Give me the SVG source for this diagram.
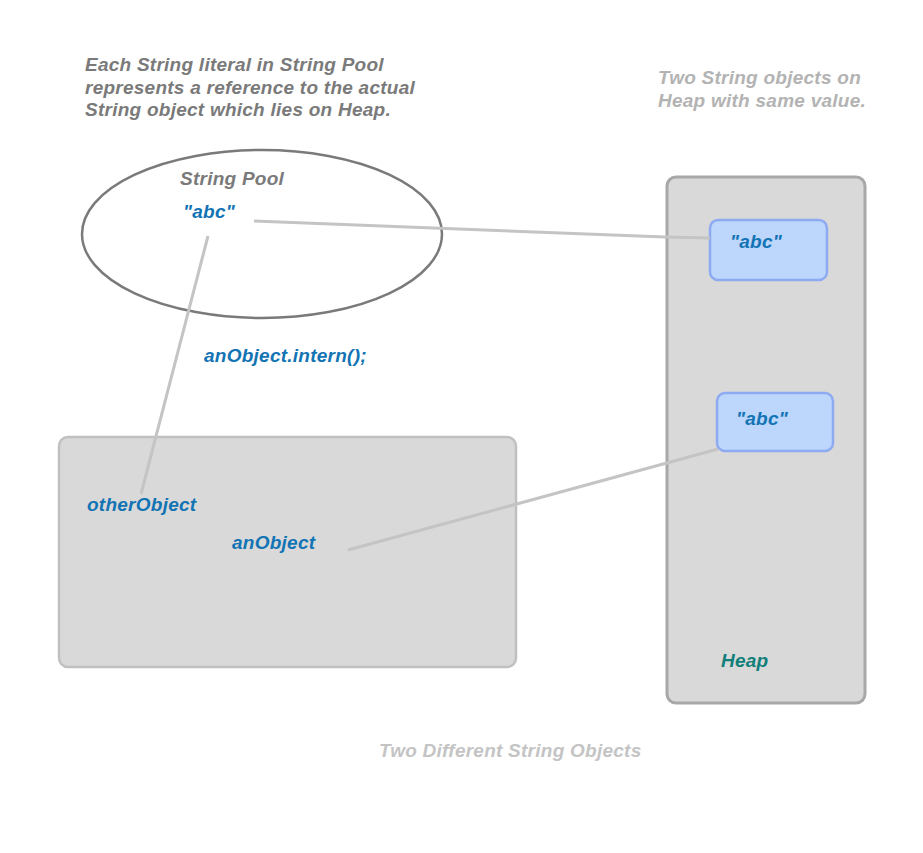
<svg xmlns="http://www.w3.org/2000/svg" width="923" height="853" viewBox="0 0 923 853">
<style>
text{font-family:"Liberation Sans",Arial,sans-serif;font-weight:bold;font-style:italic;font-size:19px;letter-spacing:0.25px}
.note{fill:#7a7a7a}
.note2{fill:#b3b3b3}
.note3{fill:#c4c4c4}
.blue{fill:#1274b4}
.teal{fill:#117f7a}
.conn{stroke:#c4c4c4;stroke-width:3;fill:none}
.panel{fill:#d9d9d9}
.obj{fill:#bdd6fb;stroke:#8eabf2;stroke-width:2.5}
</style>
<rect width="923" height="853" fill="#ffffff"/>
<g id="note-top">
<text class="note" x="85" y="71">Each String literal in String Pool</text>
<text class="note" x="85" y="94">represents a reference to the actual</text>
<text class="note" x="85" y="116">String object which lies on Heap.</text>
</g>
<g id="note-heap">
<text class="note2" x="658" y="84">Two String objects on</text>
<text class="note2" x="658" y="107">Heap with same value.</text>
</g>
<g id="heap">
<rect class="panel" x="667" y="177" width="198" height="526" rx="9" stroke="#a8a8a8" stroke-width="3"/>
<text class="teal" x="721" y="667">Heap</text>
</g>
<g id="stack">
<rect class="panel" x="59" y="437" width="457" height="230" rx="9" stroke="#c0c0c0" stroke-width="2.5"/>
</g>
<g id="pool">
<ellipse cx="262" cy="234" rx="180" ry="84" fill="#ffffff" stroke="#7a7a7a" stroke-width="2.5"/>
<text class="note" x="180" y="185">String Pool</text>
<text class="blue" x="183" y="218">"abc"</text>
</g>
<g id="heap-abc-1">
<rect class="obj" x="710" y="220" width="117" height="60" rx="8"/>
<text class="blue" x="730" y="248">"abc"</text>
</g>
<g id="heap-abc-2">
<rect class="obj" x="717" y="393" width="116" height="58" rx="8"/>
<text class="blue" x="736" y="425">"abc"</text>
</g>
<g id="connectors">
<polyline class="conn" points="254,221 665,237 710,238"/>
<line class="conn" x1="208" y1="236" x2="141" y2="494"/>
<line class="conn" x1="348" y1="550" x2="718" y2="449"/>
</g>
<g id="labels">
<text class="blue" x="204" y="362">anObject.intern();</text>
<text class="blue" x="87" y="511">otherObject</text>
<text class="blue" x="232" y="549">anObject</text>
<text class="note3" x="379" y="757">Two Different String Objects</text>
</g>
</svg>
